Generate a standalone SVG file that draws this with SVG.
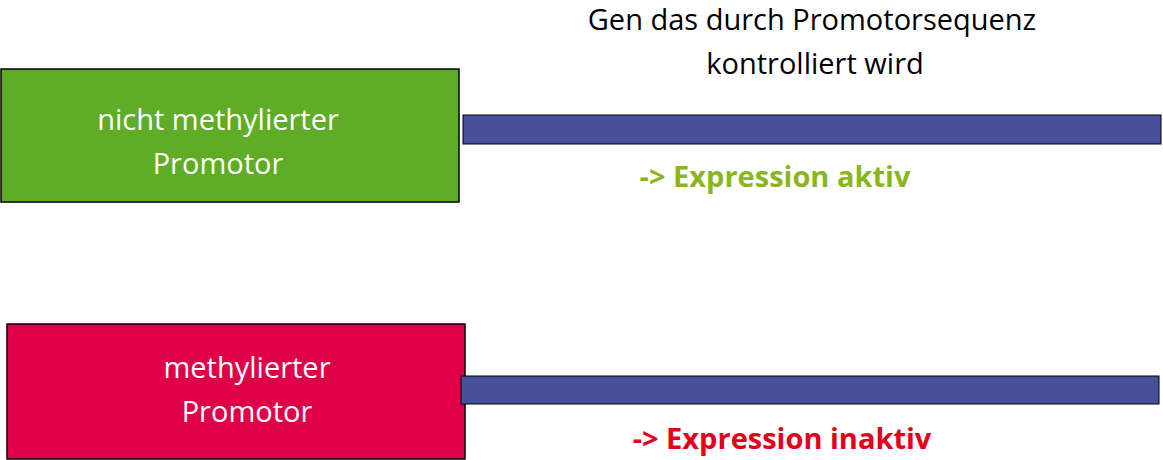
<svg xmlns="http://www.w3.org/2000/svg" width="1163" height="460" viewBox="0 0 1163 460">
<style>
.t{font-family:"Open Sans","Noto Sans",sans-serif;font-size:29px;text-anchor:middle}
.w{fill:#fff}
.k{fill:#000}
.b{font-weight:bold}
.box{stroke:#000;stroke-width:1.5}
.bar{fill:#48509b;stroke:#000;stroke-width:1}
</style>
<rect width="1163" height="460" fill="#fff"/>
<g id="title"><text class="t k" x="812" y="30">Gen das durch Promotorsequenz</text><text class="t k" x="815" y="74">kontrolliert wird</text></g>
<g id="node1"><rect class="box" x="1" y="69" width="458" height="133" fill="#5fad27"/><text class="t w" x="218" y="130">nicht methylierter</text><text class="t w" x="218" y="174">Promotor</text></g>
<g id="gene1"><rect class="bar" x="463" y="115" width="698" height="29"/></g>
<g id="label1"><text class="t b" x="775" y="187" fill="#8ab51e">-&gt; Expression aktiv</text></g>
<g id="node2"><rect class="box" x="7" y="324" width="458" height="135" fill="#e0004a"/><text class="t w" x="247" y="378">methylierter</text><text class="t w" x="247" y="422">Promotor</text></g>
<g id="gene2"><rect class="bar" x="461" y="376" width="698" height="28"/></g>
<g id="label2"><text class="t b" x="782" y="449" fill="#e2001a">-&gt; Expression inaktiv</text></g>
<g id="connectors"/>
</svg>
